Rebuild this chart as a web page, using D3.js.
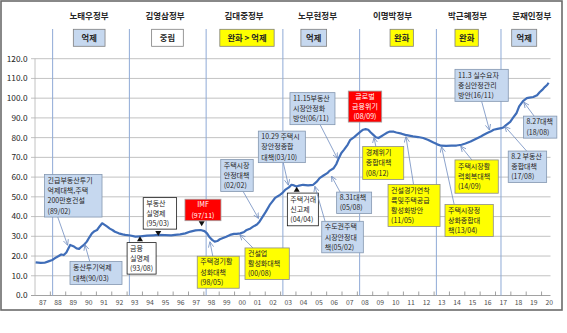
<!DOCTYPE html>
<html><head><meta charset="utf-8">
<script src="https://cdn.jsdelivr.net/npm/d3@7"></script>
<style>body{margin:0;background:#fff}svg{display:block}</style>
</head><body><svg id="c" width="567" height="333"></svg>
<script>
// ---------- data ----------
const dates = ["1987-01","1987-05","1987-08","1987-11","1988-02","1988-05","1988-07","1988-09","1988-11","1989-01","1989-02","1989-04","1989-07","1989-09","1989-11","1990-01","1990-03","1990-05","1990-07","1990-09","1990-11","1991-01","1991-03","1991-05","1991-07","1991-09","1991-11","1992-01","1992-03","1992-06","1992-09","1992-11","1993-03","1993-07","1993-11","1994-04","1994-09","1995-01","1995-06","1995-11","1996-02","1996-06","1996-10","1997-02","1997-06","1997-10","1998-01","1998-03","1998-05","1998-07","1998-09","1998-11","1999-01","1999-03","1999-06","1999-09","1999-12","2000-02","2000-05","2000-08","2000-10","2001-01","2001-03","2001-06","2001-08","2001-10","2002-01","2002-04","2002-06","2002-08","2002-10","2002-12","2003-02","2003-04","2003-07","2003-09","2003-11","2004-01","2004-03","2004-06","2004-10","2005-02","2005-05","2005-07","2005-10","2006-01","2006-03","2006-06","2006-08","2006-10","2006-12","2007-02","2007-05","2007-07","2007-10","2007-12","2008-03","2008-05","2008-07","2008-09","2008-11","2009-01","2009-03","2009-05","2009-07","2009-09","2009-12","2010-02","2010-05","2010-07","2010-11","2011-02","2011-05","2011-08","2011-12","2012-04","2012-08","2012-12","2013-03","2013-06","2013-10","2014-02","2014-06","2014-10","2015-01","2015-05","2015-09","2016-01","2016-03","2016-06","2016-09","2016-11","2017-02","2017-05","2017-07","2017-09","2017-12","2018-02","2018-05","2018-07","2018-10","2019-01","2019-03","2019-06","2019-09","2019-11","2020-01","2020-03","2020-05","2020-06"];
const values = [16.8,16.5,16.6,17.3,18.0,19.3,20.0,20.8,20.5,21.8,23.1,25.6,24.8,23.9,23.6,24.8,25.8,27.3,29.5,31.5,32.6,33.2,35.0,36.6,35.8,34.9,33.9,33.2,32.3,31.5,31.0,30.7,30.4,29.8,30.0,30.3,30.5,30.7,30.6,30.5,30.7,31.0,31.5,32.4,33.0,33.2,32.6,31.5,29.5,28.2,27.3,27.6,28.5,29.0,29.8,30.7,31.2,31.2,31.5,32.2,33.2,34.0,34.9,36.0,37.4,39.5,42.5,45.9,47.6,49.3,50.2,51.0,52.0,53.5,54.8,56.1,55.8,55.2,55.7,56.1,55.8,56.1,57.8,59.5,60.8,62.0,63.3,64.5,66.5,69.6,72.2,73.8,76.5,78.9,80.3,81.4,83.0,84.0,84.3,84.0,82.6,81.4,80.2,79.8,80.6,81.4,82.6,83.1,83.0,82.6,82.0,81.4,81.0,80.6,80.3,79.8,78.8,77.5,76.6,75.9,75.8,75.9,76.0,76.4,77.0,78.0,79.3,80.6,81.3,82.3,83.2,84.0,84.4,84.8,85.3,86.5,88.0,89.9,92.5,95.8,98.5,100.0,100.3,100.6,101.5,103.0,104.2,105.6,106.8,107.8];
const yTicks = [0,10,20,30,40,50,60,70,80,90,100,110,120];
const yearLabels = ["87","88","89","90","91","92","93","94","95","96","97","98","99","00","01","02","03","04","05","06","07","08","09","10","11","12","13","14","15","16","17","18","19","20"];
const governments = ["노태우정부","김영삼정부","김대중정부","노무현정부","이명박정부","박근혜정부","문재인정부"];
const govStart = ["1988-02-25","1993-02-25","1998-02-25","2003-02-25","2008-02-25","2013-02-25","2017-05-10"];
const policies = ["억제","중립","완화 > 억제","억제","완화","완화","억제"];
const policyKinds = ["blue","white","yellow","blue","yellow","yellow","blue"];
const annTexts = [
 ["긴급부동산투기","억제대책,주택","200만호건설","(89/02)"],
 ["동산투기억제","대책(90/03)"],
 ["부동산","실명제","(95/03)"],
 ["금융","실명제","(93/08)"],
 ["IMF","(97/11)"],
 ["주택경기활","성화대책","(98/05)"],
 ["건설업","활성화대책","(00/08)"],
 ["주택시장","안정대책","(02/02)"],
 ["10.29 주택시","장안정종합","대책(03/10)"],
 ["주택거래","신고제","(04/04)"],
 ["11.15부동산","시장안정화","방안(06/11)"],
 ["8.31대책","(05/08)"],
 ["수도권주택","시장안정대","책(05/02)"],
 ["글로벌","금융위기","(08/09)"],
 ["경제위기","종합대책","(08/12)"],
 ["건설경기연착","륙및주택공급","활성화방안","(11/05)"],
 ["주택시장정","상화종합대","책(13/04)"],
 ["주택시장활","력회복대책","(14/09)"],
 ["11.3 실수요자","중심안정관리","방안(16/11)"],
 ["8.2 부동산","종합대책","(17/08)"],
 ["8.27대책","(18/08)"]
];
const annKinds = ["blue","blue","white","white","red","yellow","yellow","blue","blue","white","blue","blue","blue","red","yellow","yellow","yellow","yellow","blue","blue","blue"];

// ---------- layout (data-space anchors, sizes in px) ----------
const govNameAt = [1990.52,1995.47,2000.62,2005.40,2010.29,2015.18,2019.36];
const policyAt = [1990.53,1995.63,2000.81,2005.16,2010.89,2015.12,2018.87];
const policyW = [31.7,31.7,54.3,25.7,23.3,23.3,25];
const annLayout = [
 {t:1987.62,v:61.3,w:57.5,h:42.5,p:{k:"arrow",fx:.23,side:"b",t:1989.12,v:25.6}},
 {t:1989.28,v:17.2,w:52,h:23,    p:{k:"arrow",fx:.38,side:"t",t:1990.26,v:25.6}},
 {t:1994.05,v:49.6,w:33.4,h:31.5,p:{k:"tri",dir:"down",t:1995.03,v:31.4}},
 {t:1993.0,v:26.8,w:29,h:31.5,   p:{k:"tri",dir:"up",t:1993.84,v:28.7}},
 {t:1996.77,v:48.8,w:36,h:21.5,  p:{k:"tri",dir:"down",t:1997.86,v:36.3}},
 {t:1997.57,v:19.9,w:42,h:32,    p:{k:"arrow",fx:.37,side:"t",t:1998.4,v:27.1}},
 {t:2000.68,v:24.1,w:44.3,h:31.5,p:{k:"arrow",fx:.18,side:"t",t:2000.36,v:30.7}},
 {t:1999.1,v:68.9,w:32.5,h:32,   p:{k:"arrow",fx:.69,side:"b",t:2001.55,v:39.2}},
 {t:2001.55,v:83.3,w:47,h:31.5,  p:{k:"arrow",fx:.53,side:"b",t:2003.5,v:56.1}},
 {t:2003.44,v:51.9,w:31,h:32.7,  p:{k:"tri",dir:"up",t:2004.05,v:53.8}},
 {t:2003.61,v:102.8,w:45,h:32,   p:{k:"arrow",fx:.67,side:"b",t:2006.69,v:69.6}},
 {t:2006.65,v:52.4,w:35,h:21.5,  p:{k:"arrow",fx:.1,side:"t",t:2006.33,v:60.3}},
 {t:2005.68,v:37.6,w:41.6,h:31.5,p:{k:"arrow",fx:.08,side:"t",t:2005.24,v:55.2}},
 {t:2007.41,v:103.6,w:33.4,h:31, p:null},
 {t:2008.35,v:75.5,w:41,h:33,    p:{k:"arrow",fx:.32,side:"t",t:2009.09,v:79.9}},
 {t:2010.0,v:56.3,w:52,h:42,     p:{k:"arrow",fx:.49,side:"t",t:2011.17,v:80.3}},
 {t:2013.71,v:46.1,w:48.3,h:32,  p:{k:"arrow",fx:.19,side:"t",t:2013.49,v:75.2}},
 {t:2014.36,v:68.7,w:43.3,h:33.3,p:{k:"arrow",fx:.39,side:"t",t:2014.75,v:75.5}},
 {t:2014.36,v:114.6,w:53.3,h:32, p:{k:"arrow",fx:.5,side:"b",t:2016.6,v:84}},
 {t:2017.83,v:73.2,w:38.4,h:31.5,p:{k:"arrow",fx:.48,side:"t",t:2017.62,v:85.6}},
 {t:2018.82,v:90.9,w:33.4,h:22,  p:{k:"arrow",fx:.32,side:"t",t:2018.86,v:97.8}}
];

const FONT = "'Noto Sans CJK KR','Noto Sans',sans-serif";
const fills = {blue:"#c6d8ef", yellow:"#ffff00", white:"#ffffff", red:"#ff0000"};
const strokes = {blue:"#8497b0", yellow:"#8c8c8c", white:"#1a1a1a", red:"#a0a0a0"};

const toT = s => { const [y,m] = s.split("-").map(Number); return y + (m - 0.5)/12; };
const dayT = s => { const [y,m,d] = s.split("-").map(Number); return y + (m-1)/12 + (d-1)/365; };

const svg = d3.select("#c");
const x = d3.scaleLinear().domain([1987, 2021]).range([35, 35 + 34*15.35]);
const xEnd = 550.5;
const y = d3.scaleLinear().domain([0, 120]).range([295.5, 58.7]);

// frame
svg.append("rect").attr("x",1).attr("y",1).attr("width",561).attr("height",309)
  .attr("fill","#fff").attr("stroke","#6b6b6b").attr("stroke-width",1.6);

// gridlines
svg.append("g").selectAll("line").data(yTicks).join("line")
  .attr("x1",31).attr("x2",xEnd).attr("y1",d=>y(d)).attr("y2",d=>y(d))
  .attr("stroke",d=>d===0?"#8a8a8a":"#b3b3b3").attr("stroke-width",0.8);
svg.append("g").selectAll("text").data(yTicks).join("text")
  .attr("x",27.5).attr("y",d=>y(d)).attr("dy","0.35em").attr("text-anchor","end")
  .attr("font-family",FONT).attr("font-size",8.3).attr("fill","#262626")
  .text(d=>d.toFixed(1));
svg.append("line").attr("x1",35).attr("x2",35).attr("y1",y(120)).attr("y2",y(0))
  .attr("stroke","#b3b3b3").attr("stroke-width",0.8);

// x ticks + labels
const years = d3.range(1988, 2021);
svg.append("g").selectAll("line").data(years).join("line")
  .attr("x1",d=>x(d)).attr("x2",d=>x(d)).attr("y1",y(0)).attr("y2",y(0)-4)
  .attr("stroke","#8a8a8a").attr("stroke-width",0.8);
svg.append("g").selectAll("text").data(yearLabels).join("text")
  .attr("x",(d,i)=>x(1987+i+0.5)).attr("y",305).attr("text-anchor","middle")
  .attr("font-family",FONT).attr("font-size",6.8).attr("fill","#4d4d4d")
  .text(d=>d);

// government lines
svg.append("g").selectAll("line").data(govStart).join("line")
  .attr("x1",d=>x(dayT(d))).attr("x2",d=>x(dayT(d))).attr("y1",29).attr("y2",y(0))
  .attr("stroke","#8faad6").attr("stroke-width",1);

// header
svg.append("g").selectAll("text").data(governments).join("text")
  .attr("x",(d,i)=>x(govNameAt[i])).attr("y",16).attr("dy","0.35em").attr("text-anchor","middle")
  .attr("font-family",FONT).attr("font-size",8.5).attr("font-weight","bold").attr("fill","#262626")
  .text(d=>d);
const pg = svg.append("g").selectAll("g").data(policies).join("g");
pg.append("rect").attr("x",(d,i)=>x(policyAt[i])-policyW[i]/2).attr("y",29.3)
  .attr("width",(d,i)=>policyW[i]).attr("height",17)
  .attr("fill",(d,i)=>fills[policyKinds[i]]).attr("stroke","#7f7f7f").attr("stroke-width",0.8);
pg.append("text").attr("x",(d,i)=>x(policyAt[i])).attr("y",38).attr("dy","0.35em")
  .attr("text-anchor","middle").attr("font-family",FONT).attr("font-size",8.3)
  .attr("font-weight","bold").attr("fill","#262626").text(d=>d);

// data line
const pts = dates.map((d,i)=>[toT(d), values[i]]);
svg.append("path").datum(pts)
  .attr("d", d3.line().x(d=>x(d[0])).y(d=>y(d[1])))
  .attr("fill","none").attr("stroke","#3f6db8").attr("stroke-width",2.2)
  .attr("stroke-linejoin","round");

// arrow marker
svg.append("defs").append("marker").attr("id","ah").attr("viewBox","0 0 8 8")
  .attr("refX",7).attr("refY",4).attr("markerWidth",6).attr("markerHeight",6)
  .attr("orient","auto").attr("markerUnits","userSpaceOnUse")
  .append("path").attr("d","M0,0.5 L7.5,4 L0,7.5").attr("fill","none")
  .attr("stroke","#6f8cbf").attr("stroke-width",1);

// annotations
const FS = 7, LH = 10.2;
const ag = svg.append("g");
annTexts.forEach((lines,i)=>{
  const L = annLayout[i], kind = annKinds[i];
  const bx = x(L.t), by = y(L.v);
  const p = L.p;
  if (p && p.k==="arrow") {
    const sx = bx + p.fx*L.w, sy = p.side==="t" ? by : by + L.h;
    ag.append("line").attr("x1",sx).attr("y1",sy).attr("x2",x(p.t)).attr("y2",y(p.v))
      .attr("stroke","#6f8cbf").attr("stroke-width",0.8).attr("marker-end","url(#ah)");
  }
  if (p && p.k==="tri") {
    const cx = x(p.t), cy = y(p.v);
    const tri = p.dir==="down" ? `M${cx-3},${cy-2.5}L${cx+3},${cy-2.5}L${cx},${cy+2.5}Z`
                               : `M${cx-3},${cy+2.5}L${cx+3},${cy+2.5}L${cx},${cy-2.5}Z`;
    ag.append("path").attr("d",tri).attr("fill","#111");
  }
  ag.append("rect").attr("x",bx).attr("y",by).attr("width",L.w).attr("height",L.h)
    .attr("fill",fills[kind]).attr("stroke",strokes[kind]).attr("stroke-width",0.8);
  const top = by + (L.h - lines.length*LH)/2 + LH/2;
  const centered = kind==="red";
  const tx = centered ? bx + L.w/2 : bx + 3;
  const t = ag.append("text")
    .attr("text-anchor", centered ? "middle" : "start")
    .attr("font-family",FONT).attr("font-size",FS)
    .attr("fill", kind==="red" ? "#ffffff" : "#262626");
  t.selectAll("tspan").data(lines).join("tspan")
    .attr("x", tx).attr("y",(d,j)=>top + j*LH).attr("dy","0.35em")
    .text(d=>d);
});
</script></body></html>
